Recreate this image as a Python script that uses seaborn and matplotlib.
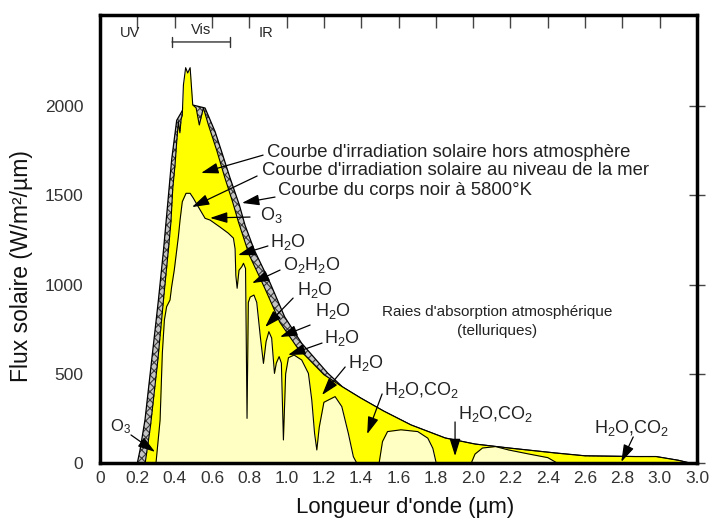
import numpy as np
import pandas as pd
import matplotlib
matplotlib.use("Agg")
import matplotlib.pyplot as plt
import seaborn as sns

# blackbody 5800K curve
bb_wl = [0.20, 0.2145, 0.241, 0.277, 0.313, 0.34, 0.36, 0.384, 0.411, 0.45, 0.50,
         0.563, 0.617, 0.652, 0.697, 0.747, 0.777, 0.827, 0.912, 0.99, 1.08, 1.22,
         1.30, 1.397, 1.52, 1.667, 1.85, 2.01, 2.19, 2.44, 2.60, 2.87, 2.98, 3.10, 3.16]
bb_flux = [0, 73, 241, 577, 913, 1190, 1420, 1700, 1920, 1990, 2005,
           1989, 1856, 1744, 1597, 1445, 1333, 1193, 1008, 818, 672, 504,
           426, 364, 291, 213, 140, 106, 84, 56, 40, 36, 36, 15, 0]

# irradiance outside the atmosphere
et_wl = [0.242, 0.270, 0.310, 0.340, 0.368, 0.38, 0.39, 0.402, 0.411, 0.42, 0.428,
         0.435, 0.441, 0.447, 0.459, 0.470, 0.483, 0.497, 0.515, 0.532, 0.554,
         0.581, 0.626, 0.67, 0.71, 0.742, 0.80, 0.885, 0.963, 1.055, 1.20,
         1.30, 1.397, 1.52, 1.667, 1.85, 2.01, 2.19, 2.44, 2.60, 2.87, 2.98, 3.10, 3.16]
et_flux = [0, 203, 577, 913, 1212, 1350, 1540, 1670, 1800, 1912, 1850,
           1930, 1950, 2118, 2215, 2185, 2215, 2006, 1990, 1894, 1990,
           1894, 1750, 1595, 1465, 1350, 1165, 975, 790, 650, 495,
           426, 364, 291, 213, 140, 106, 84, 56, 40, 36, 36, 15, 0]

# irradiance at sea level
sl_wl = [0.300, 0.322, 0.334, 0.345, 0.357, 0.375, 0.384, 0.398, 0.420, 0.429, 0.441,
         0.461, 0.483, 0.500, 0.527, 0.563, 0.590, 0.643, 0.687, 0.715, 0.724, 0.728,
         0.735, 0.745, 0.760, 0.769, 0.780, 0.788, 0.795, 0.805, 0.825, 0.840, 0.860,
         0.876, 0.890, 0.905, 0.920, 0.935, 0.945, 0.960, 0.972, 0.983, 0.995, 1.010,
         1.040, 1.081, 1.117, 1.135, 1.150, 1.162, 1.175, 1.200, 1.224, 1.260, 1.296,
         1.331, 1.358, 1.376, 1.496, 1.514, 1.541, 1.613, 1.703, 1.757, 1.784, 1.802,
         1.99, 2.01, 2.05, 2.12, 2.19, 2.30, 2.40, 2.45, 3.16]
sl_flux = [0, 241, 615, 801, 876, 913, 988, 1081, 1268, 1361, 1464,
           1511, 1511, 1484, 1435, 1371, 1361, 1322, 1288, 1260, 1200, 1050,
           979, 1080, 1100, 1119, 1090, 250, 900, 930, 941, 900, 700,
           558, 680, 736, 700, 502, 560, 596, 560, 129, 500, 590,
           605, 577, 502, 353, 166, 73, 200, 340, 353, 372, 316,
           166, 35, 0, 0, 120, 176, 186, 176, 139, 82, 0,
           0, 50, 84, 92, 73, 50, 30, 0, 0]

x_ticks = [0, 0.2, 0.4, 0.6, 0.8, 1.0, 1.2, 1.4, 1.6, 1.8, 2.0, 2.2, 2.4, 2.6, 2.8, 3.0, 3.2]
x_tick_labels = ['0', '0.2', '0.4', '0.6', '0.8', '1.0', '1.2', '1.4', '1.6', '1.8',
                 '2.0', '2.2', '2.4', '2.6', '2.8', '3.0', '3.0']
y_ticks = [0, 500, 1000, 1500, 2000]

sns.set_theme(style="white")
plt.rcParams['font.family'] = ['Liberation Sans', 'DejaVu Sans']
plt.rcParams['mathtext.fontset'] = 'custom'
plt.rcParams['mathtext.rm'] = 'Liberation Sans'
plt.rcParams['mathtext.it'] = 'Liberation Sans'
plt.rcParams['hatch.linewidth'] = 0.8

bb = pd.DataFrame({'wl': bb_wl, 'flux': bb_flux})
et = pd.DataFrame({'wl': et_wl, 'flux': et_flux})
sl = pd.DataFrame({'wl': sl_wl, 'flux': sl_flux})

fig = plt.figure(figsize=(7.18, 5.25), dpi=100)
ax = fig.add_axes([0.1393, 0.1181, 0.8315, 0.8533])

# blackbody band (cross-hatched), then space spectrum, then sea level spectrum
ax.fill_between(bb['wl'], 0, bb['flux'], facecolor='#c4c4c4', edgecolor='#3c3c3c',
                hatch='xxxx', linewidth=0, zorder=1)
sns.lineplot(data=bb, x='wl', y='flux', color='black', lw=0.9, sort=False,
             estimator=None, ax=ax, zorder=1.5)
ax.fill_between(et['wl'], 0, et['flux'], color='#ffff00', linewidth=0, zorder=2)
sns.lineplot(data=et, x='wl', y='flux', color='black', lw=0.8, sort=False,
             estimator=None, ax=ax, zorder=2.5)
ax.fill_between(sl['wl'], 0, sl['flux'], color='#ffffc4', linewidth=0, zorder=3)
sns.lineplot(data=sl, x='wl', y='flux', color='black', lw=0.8, sort=False,
             estimator=None, ax=ax, zorder=3.5)

ax.set_xlim(0, 3.2)
ax.set_ylim(0, 2510)
ax.set_xticks(x_ticks)
ax.set_xticklabels(x_tick_labels)
ax.set_yticks(y_ticks)
ax.tick_params(axis='both', direction='in', length=9, width=1, color='#444444',
               labelsize=12.5, labelcolor='#333333', top=True, right=True, pad=6)
ax.tick_params(axis='y', direction='inout', length=12)
for s in ax.spines.values():
    s.set_linewidth(2.5)
    s.set_color('black')
    s.set_zorder(6)

ax.set_xlabel("Longueur d'onde (µm)", fontsize=16, color='#111111')
ax.set_ylabel("Flux solaire (W/m²/µm)", fontsize=16.5, color='#111111')
ax.xaxis.set_label_coords(0.511, -0.075)
ax.yaxis.set_label_coords(-0.112, 0.44)

# UV / Vis / IR header
ax.text(0.161, 2409, 'UV', fontsize=10.5, ha='center', va='center')
ax.text(0.542, 2425, 'Vis', fontsize=10.5, ha='center', va='center')
ax.text(0.89, 2409, 'IR', fontsize=10.5, ha='center', va='center')
ax.annotate('', xy=(0.386, 2359), xytext=(0.697, 2359),
            arrowprops=dict(arrowstyle='|-|,widthA=0.3,widthB=0.3', color='#333333', lw=1,
                            shrinkA=0, shrinkB=0))

arrow = dict(arrowstyle='-|>,head_length=0.7,head_width=0.22', color='black', lw=0.9,
             mutation_scale=15, shrinkA=0, shrinkB=0)

labels = [
    ("Courbe d'irradiation solaire hors atmosphère", 0.895, 1742, (0.874, 1725), (0.542, 1625), 13.3),
    ("Courbe d'irradiation solaire au niveau de la mer", 0.869, 1641, (0.842, 1608), (0.493, 1434), 13.3),
    ("Courbe du corps noir à 5800°K", 0.954, 1529, (0.938, 1490), (0.761, 1457), 13.3),
    ("O$_3$", 0.858, 1389, (0.804, 1378), (0.59, 1373), 13),
    ("H$_2$O", 0.912, 1238, (0.90, 1216), (0.74, 1165), 13),
    ("O$_2$H$_2$O", 0.981, 1109, (0.965, 1081), (0.815, 1008), 13),
    ("H$_2$O", 1.056, 969, (1.035, 924), (0.885, 762), 13),
    ("H$_2$O", 1.153, 852, (1.126, 773), (0.965, 706), 13),
    ("H$_2$O", 1.201, 700, (1.19, 672), (1.008, 605), 13),
    ("H$_2$O", 1.33, 560, (1.314, 538), (1.19, 381), 13),
    ("H$_2$O,CO$_2$", 1.523, 409, (1.512, 387), (1.432, 162), 13),
    ("H$_2$O,CO$_2$", 1.92, 275, (1.903, 230), (1.903, 39), 13),
    ("H$_2$O,CO$_2$", 2.649, 196, (2.858, 146), (2.794, 6), 13),
    ("O$_3$", 0.054, 202, (0.166, 157), (0.295, 62), 12),
]
for txt, tx, ty, tail, tip, fs in labels:
    ax.text(tx, ty, txt, fontsize=fs, ha='left', va='center', color='#222222', zorder=8)
    ax.annotate('', xy=tip, xytext=tail, arrowprops=arrow, zorder=8)

ax.text(2.129, 846, "Raies d'absorption atmosphérique", fontsize=11, ha='center',
        va='center', color='#222222')
ax.text(2.129, 739, "(telluriques)", fontsize=11, ha='center', va='center', color='#222222')

fig.savefig('out.png', dpi=100)
